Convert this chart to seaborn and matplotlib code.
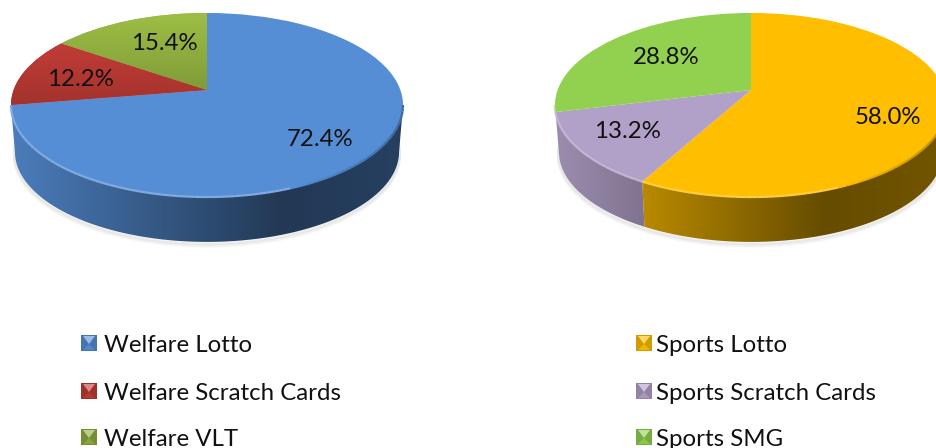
import numpy as np
import seaborn as sns
import matplotlib.pyplot as plt
from matplotlib.collections import LineCollection
from matplotlib.colors import to_rgb
from matplotlib.transforms import Transform

sns.set_theme(style="white")
plt.rcParams['font.family'] = ['Lato', 'DejaVu Sans']

#################################################################
# Data
welfare_names = ['Welfare Lotto', 'Welfare Scratch Cards', 'Welfare VLT']
welfare_values = [72.4, 12.2, 15.4]
sports_names = ['Sports Lotto', 'Sports Scratch Cards', 'Sports SMG']
sports_values = [58.0, 13.2, 28.8]

welfare_colors = ['#558ED5', '#BE3B35', '#8FAD3F']
sports_colors = ['#FFBE00', '#B1A0C7', '#92D050']
#################################################################

FONT = 17.3
K = 0.163  # perspective of the tilted disc
SQUEEZE = 0.98  # the bottom disc looks a bit smaller
DEPTH = 47


class Tilt(Transform):
    # unit circle -> pixels, the middle of the pie is not the middle of the ellipse
    input_dims = output_dims = 2

    def __init__(self, cx, cy, scale=1.0, drop=0):
        super().__init__()
        self.cx, self.cy, self.scale, self.drop = cx, cy, scale, drop

    def transform_non_affine(self, values):
        values = np.asarray(values)
        w = 1 + K * values[:, 1]
        x = self.cx + self.scale * 193.4 * values[:, 0] / w
        y = self.cy + self.drop - self.scale * 89.6 * values[:, 1] / w
        return np.column_stack([x, y])


def shade(t):
    # how dark the side wall gets going left to right
    return np.interp(t, [0, 0.69, 1], [0.88, 0.40, 0.45])


def rim(theta1, theta2, n=80):
    a = np.radians(np.linspace(theta1, theta2, n))
    return np.column_stack([np.cos(a), np.sin(a)])


def draw_pie(ax, values, colors, cx, cy, gradient=()):
    top = Tilt(cx, cy)
    low = Tilt(cx, cy, SQUEEZE, DEPTH)
    left, right = cx - 196, cx + 196

    # soft shadow on the ground
    ground = low.transform(rim(-180, 0))
    for grow, alpha in [(4, 0.02), (3, 0.03), (1.5, 0.04)]:
        ax.plot(ground[:, 0], ground[:, 1] + grow, color='black', alpha=alpha, lw=3, zorder=0.5)

    wedges, _ = ax.pie(values, colors=colors, startangle=90, counterclock=False,
                       wedgeprops={'lw': 0, 'zorder': 2})
    for i, w in enumerate(wedges):
        w.set_transform(top + ax.transData)

        # side wall of the slice, only the part facing us
        t1, t2 = max(w.theta1, -170.6), min(w.theta2, -9.4)
        if t2 > t1:
            upper = top.transform(rim(t1, t2))
            lower = low.transform(rim(t2, t1))
            poly = plt.Polygon(np.vstack([upper, lower]), closed=True, fc='none', ec='none',
                               transform=ax.transData)
            ax.add_patch(poly)
            base = np.array(to_rgb(colors[i]))
            ts = np.linspace(0, 1, 200)
            grad = (shade(ts)[:, None] * base)[None, :, :]
            im = ax.imshow(grad, extent=[left, right, 250, 90], aspect='auto', zorder=1,
                           interpolation='bilinear')
            im.set_clip_path(poly)

            # bright bevel along the front edge, darker towards the right
            segs = top.transform(rim(t1, t2))
            pairs = np.stack([segs[:-1], segs[1:]], axis=1)
            mid = (pairs[:, 0, 0] + pairs[:, 1, 0]) / 2
            frac = (mid - left) / (right - left)
            cols = []
            for f in frac:
                if f < 0.72:
                    cols.append(base + (1 - base) * 0.25)
                else:
                    cols.append(base * (1 - 0.9 * (f - 0.72)))
            ax.add_collection(LineCollection(pairs, colors=cols, lw=1.6, zorder=3))

        # vertical fade on the top face of some slices
        if i in gradient:
            base = np.array(to_rgb(colors[i]))
            grad = np.linspace(1.1, 0.86, 100)[:, None, None] * base[None, None, :]
            im = ax.imshow(np.clip(grad, 0, 1), extent=[left, right, 105, 13], aspect='auto',
                           zorder=2.5, interpolation='bilinear')
            im.set_clip_path(w)


def draw_legend(ax, names, colors, x, text_x):
    for name, color, y in zip(names, colors, [343, 391, 437]):
        base = np.array(to_rgb(color))
        s = 8
        ax.fill([x - s, x + s, x + s, x - s], [y - s, y - s, y + s, y + s], color=base * 0.82, lw=0, zorder=4)
        ax.fill([x - s + 2, x + s - 2, x], [y - s + 1, y - s + 1, y + 1], color=base + (1 - base) * 0.4, lw=0, zorder=4)
        ax.fill([x - s + 2, x + s - 2, x], [y + s - 1, y + s - 1, y + 1], color=base * 0.95, lw=0, zorder=4)
        ax.text(text_x, y, name, fontsize=FONT, color='#111111', va='center_baseline', ha='left', zorder=5)


fig = plt.figure(figsize=(9.36, 4.48), dpi=100)
ax = fig.add_axes([0, 0, 1, 1])

draw_pie(ax, welfare_values, welfare_colors, 207, 90, gradient=(1, 2))
draw_pie(ax, sports_values, sports_colors, 751, 90)

label_spots = [(320, 139), (80, 79), (164, 44)]
for v, (x, y) in zip(welfare_values, label_spots):
    ax.text(x, y, f'{v:.1f}%', fontsize=FONT, color='#111111', ha='center', va='center', zorder=5)
label_spots = [(888, 118), (627, 132), (666, 57)]
for v, (x, y) in zip(sports_values, label_spots):
    ax.text(x, y, f'{v:.1f}%', fontsize=FONT, color='#111111', ha='center', va='center', zorder=5)

draw_legend(ax, welfare_names, welfare_colors, 89, 104)
draw_legend(ax, sports_names, sports_colors, 644, 656)

ax.set_aspect('auto')
ax.set_position([0, 0, 1, 1])
ax.set_xlim(0, 936)
ax.set_ylim(448, 0)
ax.axis('off')

plt.savefig('out.png', dpi=100)
